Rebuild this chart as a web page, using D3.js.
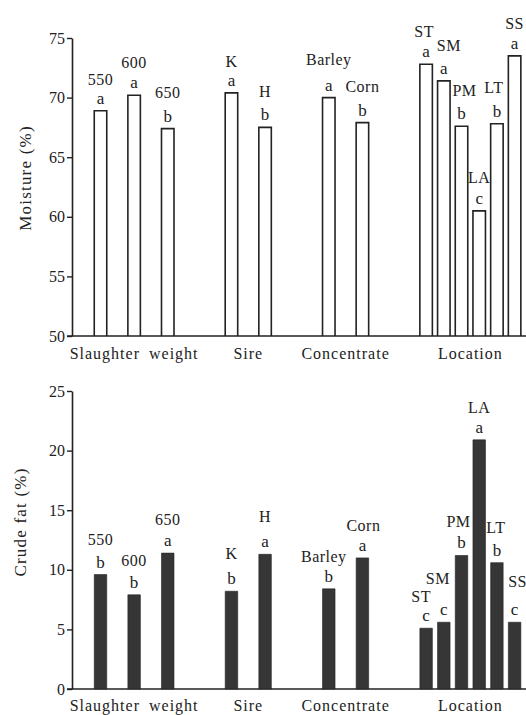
<!DOCTYPE html>
<html>
<head>
<meta charset="utf-8">
<script src="https://cdn.jsdelivr.net/npm/d3@7"></script>
<style>
  body { margin: 0; background: #fff; }
  svg { display: block; }
  text { font-family: "Liberation Serif", "Times New Roman", "DejaVu Serif", serif; fill: #222; }
  .tick line, .domain { stroke: #222; }
</style>
</head>
<body>
<svg class="chart" width="526" height="715"></svg>
<script>
// chart values
const groups = ["Slaughter weight", "Sire", "Concentrate", "Location"];
const barNames = ["550", "600", "650", "K", "H", "Barley", "Corn", "ST", "SM", "PM", "LA", "LT", "SS"];
const barGroup = [0, 0, 0, 1, 1, 2, 2, 3, 3, 3, 3, 3, 3];
const moisture = [68.9, 70.2, 67.4, 70.4, 67.5, 70.0, 67.9, 72.8, 71.4, 67.6, 60.5, 67.8, 73.5];
const moistureLetters = ["a", "a", "b", "a", "b", "a", "b", "a", "a", "b", "c", "b", "a"];
const crudeFat = [9.6, 7.9, 11.4, 8.2, 11.3, 8.4, 11.0, 5.1, 5.6, 11.2, 20.9, 10.6, 5.6];
const crudeFatLetters = ["b", "b", "a", "b", "a", "b", "a", "c", "c", "b", "a", "b", "c"];
const moistureTicks = [50, 55, 60, 65, 70, 75];
const fatTicks = [0, 5, 10, 15, 20, 25];

// label nudges [dx, dy of name above its letter], hand placed like the original
const topNameShift = [[0,-19],[0,-20],[0,-24],[0,-19],[0,-23],[0,-26],[0,-24],[-2,-20],[5,-23],[3,-23],[0,-21],[-3,-24],[0,-20]];
const botNameShift = [[0,-23],[0,-22],[0,-21],[0,-25],[0,-25],[-5,-20],[1,-20],[-5,-19],[-6,-31],[-3,-21],[0,-20],[-1,-23],[3,-28]];

const width = 526;
const svg = d3.select(".chart");

// slot position of every bar: wide steps in the first groups, tight in Location
const wideStep = 1.9, locStep = 1, groupGap = 3.6;
const slots = [];
let s = 0;
barNames.forEach((n, i) => {
    if (i > 0) {
        if (barGroup[i] !== barGroup[i - 1]) s += groupGap;
        else s += barGroup[i] === 3 ? locStep : wideStep;
    }
    slots.push(s);
});
const x = d3.scaleLinear().domain([0, d3.max(slots)]).range([100.5, 514.6]);
const barW = 12.5;

function drawPanel(opts) {
    const { values, letters, ticks, y, title, titleX, titleY, filled, shift, labelY } = opts;
    const g = svg.append("g");
    const base = y.range()[0];

    // y axis
    g.append("g")
        .attr("transform", "translate(72,0)")
        .call(d3.axisLeft(y).tickValues(ticks).tickSize(5).tickSizeOuter(0).tickPadding(2))
        .call(a => a.selectAll("text").style("font-size", "16px").style("font-family", "Liberation Serif, serif").attr("fill", "#222"))
        .call(a => a.selectAll("line").attr("stroke-width", 1.4))
        .call(a => a.select(".domain").attr("stroke-width", 1.6));

    // baseline
    g.append("line")
        .attr("x1", 67).attr("x2", width)
        .attr("y1", base).attr("y2", base)
        .attr("stroke", "#222").attr("stroke-width", 1.6);

    const data = values.map((v, i) => ({ v, i, name: barNames[i], letter: letters[i] }));

    g.selectAll(".bar")
        .data(data)
        .join("path")
        .attr("class", "bar")
        .attr("d", d => {
            const x0 = x(slots[d.i]) - barW / 2, x1 = x0 + barW, yt = y(d.v);
            return filled
                ? `M${x0},${base}V${yt}H${x1}V${base}Z`
                : `M${x0},${base}V${yt}H${x1}V${base}`;
        })
        .attr("fill", filled ? "#363636" : "none")
        .attr("stroke", "#222")
        .attr("stroke-width", filled ? 0.6 : 1.6);

    g.selectAll(".letter")
        .data(data)
        .join("text")
        .attr("class", "letter")
        .attr("x", d => x(slots[d.i]))
        .attr("y", d => y(d.v) - 7)
        .attr("text-anchor", "middle")
        .style("font-size", "17px")
        .text(d => d.letter);

    g.selectAll(".name")
        .data(data)
        .join("text")
        .attr("class", "name")
        .attr("x", d => x(slots[d.i]) + shift[d.i][0])
        .attr("y", d => y(d.v) - 7 + shift[d.i][1])
        .attr("text-anchor", "middle")
        .style("font-size", "16px")
        .style("letter-spacing", "0.5px")
        .text(d => d.name);

    // group labels under the axis
    g.selectAll(".group")
        .data(groups)
        .join("text")
        .attr("class", "group")
        .attr("x", (d, gi) => {
            const idx = d3.range(barNames.length).filter(i => barGroup[i] === gi);
            return (x(slots[idx[0]]) + x(slots[idx[idx.length - 1]])) / 2;
        })
        .attr("y", labelY)
        .attr("text-anchor", "middle")
        .style("font-size", "16px")
        .style("letter-spacing", "1px")
        .style("word-spacing", "4px")
        .text(d => d);

    g.append("text")
        .attr("transform", `translate(${titleX},${titleY}) rotate(-90)`)
        .attr("text-anchor", "middle")
        .style("font-size", "17px")
        .style("letter-spacing", "1.2px")
        .text(title);
}

drawPanel({
    values: moisture, letters: moistureLetters, ticks: moistureTicks,
    y: d3.scaleLinear().domain([50, 75]).range([336, 38]),
    title: "Moisture (%)", titleX: 31, titleY: 178,
    filled: false, shift: topNameShift, labelY: 359
});

drawPanel({
    values: crudeFat, letters: crudeFatLetters, ticks: fatTicks,
    y: d3.scaleLinear().domain([0, 25]).range([689, 391]),
    title: "Crude fat (%)", titleX: 26, titleY: 522,
    filled: true, shift: botNameShift, labelY: 711
});
</script>
</body>
</html>
